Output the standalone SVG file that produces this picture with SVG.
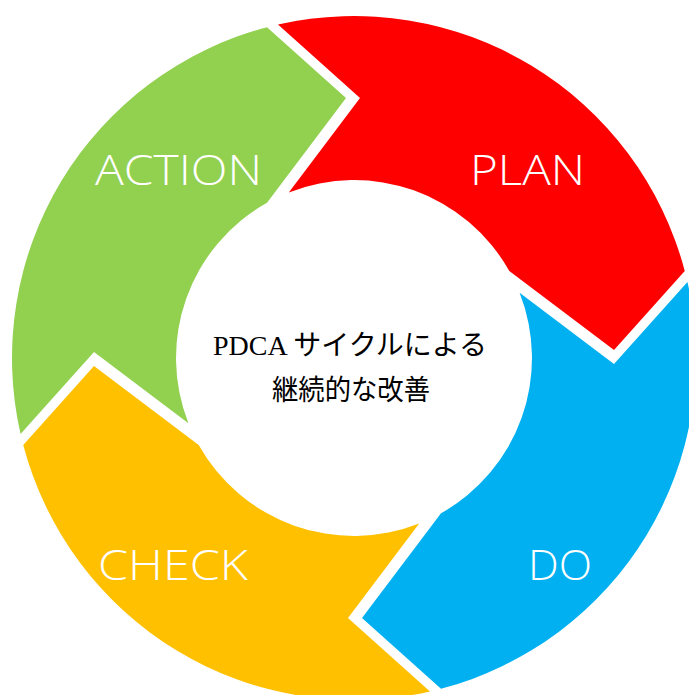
<svg xmlns="http://www.w3.org/2000/svg" xmlns:xlink="http://www.w3.org/1999/xlink" width="689" height="695" viewBox="0 0 689 695">
<style>
.lbl{font-family:"Open Sans","Noto Sans","DejaVu Sans",sans-serif;font-weight:300;font-size:42px;fill:#fff;}
.ctr{font-family:"Liberation Serif","Noto Sans CJK JP",serif;font-size:28px;fill:#000;text-anchor:middle;}
</style>
<defs>
<path id="seg" d="M 20.55 434 A 342 342 0 0 1 267 27.25 L 346 98 L 267 202.7 A 178 178 0 0 0 188.4 423.2 L 94 352 Z"/>
</defs>
<rect width="689" height="695" fill="#fff"/>
<g id="action">
<use xlink:href="#seg" href="#seg" fill="#92D050"/>
<text class="lbl" x="95" y="185" textLength="167" lengthAdjust="spacingAndGlyphs">ACTION</text>
</g>
<g id="plan">
<use xlink:href="#seg" href="#seg" fill="#FF0000" transform="rotate(90 354 358)"/>
<text class="lbl" x="470" y="185" textLength="115" lengthAdjust="spacingAndGlyphs">PLAN</text>
</g>
<g id="do">
<use xlink:href="#seg" href="#seg" fill="#00B0F0" transform="rotate(180 354 358)"/>
<text class="lbl" x="528" y="580" textLength="64" lengthAdjust="spacingAndGlyphs">DO</text>
</g>
<g id="check">
<use xlink:href="#seg" href="#seg" fill="#FFC000" transform="rotate(270 354 358)"/>
<text class="lbl" x="98" y="580" textLength="150" lengthAdjust="spacingAndGlyphs">CHECK</text>
</g>
<g id="center">
<text class="ctr" x="350" y="355" textLength="274" lengthAdjust="spacingAndGlyphs">PDCA サイクルによる</text>
<text class="ctr" x="351" y="400" textLength="158" lengthAdjust="spacingAndGlyphs">継続的な改善</text>
</g>
<g id="connectors"/>
</svg>
